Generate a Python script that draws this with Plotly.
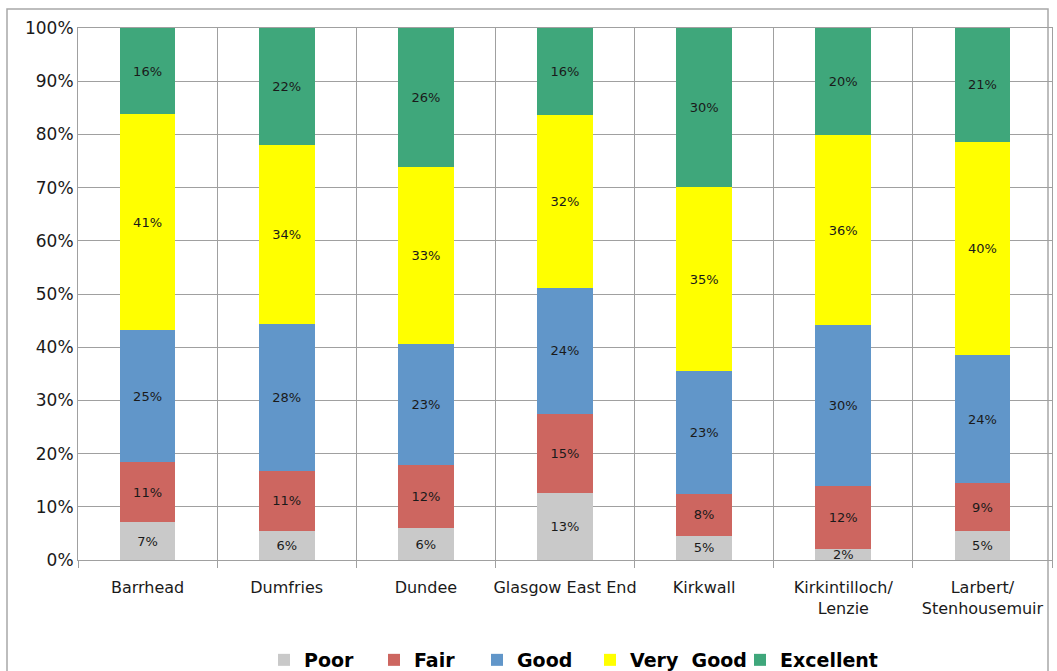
import plotly.graph_objects as go

categories = ["Barrhead", "Dumfries", "Dundee", "Glasgow East End", "Kirkwall",
              "Kirkintilloch/<br>Lenzie", "Larbert/<br>Stenhousemuir"]
poor = [7.1, 5.5, 6.0, 12.6, 4.6, 2.1, 5.4]
fair = [11.3, 11.2, 11.9, 14.8, 7.8, 11.9, 9.1]
good = [24.8, 27.7, 22.7, 23.8, 23.1, 30.2, 24.0]
very_good = [40.6, 33.6, 33.3, 32.4, 34.6, 35.6, 40.1]
excellent = [16.2, 22.0, 26.1, 16.4, 29.9, 20.2, 21.4]

series = [
    ("Poor", poor, "#C9C9C9", 65),
    ("Fair", fair, "#CD6660", 58),
    ("Good", good, "#6196C9", 68),
    ("Very  Good", very_good, "#FFFF00", 105),
    ("Excellent", excellent, "#3FA77B", 110),
]

fig = go.Figure()
for name, vals, color, lw in series:
    fig.add_trace(go.Bar(
        name=name, x=categories, y=vals, marker=dict(color=color, line=dict(width=0)),
        text=[f"{v:.0f}%" for v in vals], textposition="inside",
        insidetextanchor="middle", textangle=0, constraintext="none",
        textfont=dict(family="DejaVu Sans", size=13, color="#1a1a1a"),
        legendwidth=lw, hoverinfo="skip",
    ))

W, H = 1057, 671
ml, mr, mt, mb = 78, 5, 28, 111
pw = W - ml - mr
ph = H - mt - mb

fig.update_layout(
    barmode="stack", bargap=0.6, width=W, height=H,
    margin=dict(l=ml, r=mr, t=mt, b=mb, pad=0, autoexpand=False),
    plot_bgcolor="white", paper_bgcolor="white",
    font=dict(family="DejaVu Sans", color="#1a1a1a"),
    showlegend=True,
    legend=dict(orientation="h", x=(264 - ml) / pw, xanchor="left",
                y=(mt + ph - 660) / ph, yanchor="middle",
                font=dict(family="DejaVu Sans", size=19, color="#000", weight="bold"),
                itemwidth=30, traceorder="normal", bgcolor="rgba(0,0,0,0)"),
    xaxis=dict(type="category", tickson="boundaries", showgrid=True, gridcolor="#A0A0A0",
               gridwidth=1, ticks="outside", ticklen=7, tickcolor="#A0A0A0",
               showline=True, linecolor="#A0A0A0", mirror=True, tickangle=0,
               automargin=False, ticklabelstandoff=13,
               tickfont=dict(size=16, color="#1a1a1a"), fixedrange=True),
    yaxis=dict(range=[0, 100], dtick=10, ticksuffix="%", showgrid=True, gridcolor="#A0A0A0",
               gridwidth=1, showline=True, linecolor="#A0A0A0", mirror=True,
               ticks="", tickfont=dict(size=17, color="#1a1a1a"), zeroline=False,
               automargin=False, fixedrange=True),
)

# outer chart border
fig.add_shape(type="rect", xref="paper", yref="paper",
              x0=(7 - ml) / pw, x1=(1048 - ml) / pw,
              y0=(mt + ph - 700) / ph, y1=(mt + ph - 9) / ph,
              line=dict(color="#A8A8A8", width=1.5), fillcolor="rgba(0,0,0,0)", layer="below")

fig.write_html("out.html")
